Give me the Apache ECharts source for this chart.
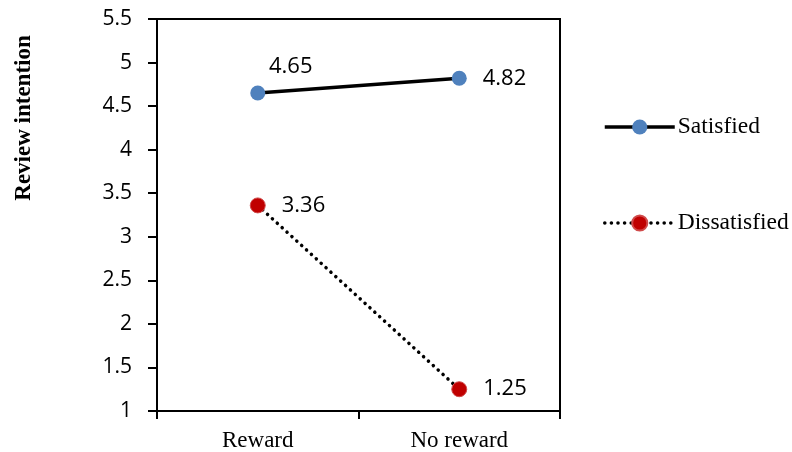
<!DOCTYPE html>
<html>
<head>
<meta charset="utf-8">
<script src="https://cdn.jsdelivr.net/npm/echarts@6/dist/echarts.min.js"></script>
<style>
  html, body { margin: 0; padding: 0; background: #fff; }
  #chart { width: 792px; height: 452px; }
</style>
</head>
<body>
<div id="chart"></div>
<script>
// Review intention by reward condition, for satisfied vs dissatisfied customers
const categories = ['Reward', 'No reward'];
const satisfied = [4.65, 4.82];
const dissatisfied = [3.36, 1.25];
const yTicks = { min: 1, max: 5.5, step: 0.5 };

const numFont = '"Open Sans", "Liberation Sans", sans-serif';
const serifFont = '"Liberation Serif", "DejaVu Serif", serif';

const solidLine = { color: '#000', width: 3.5, type: 'solid' };
const dottedLine = { color: '#000', width: 3.5, type: [0.1, 6.5], cap: 'round' };

const chart = echarts.init(document.getElementById('chart'));

chart.setOption({
  animation: false,
  backgroundColor: '#fff',
  grid: {
    left: 157, right: 232, top: 19, bottom: 40,
    show: true, borderColor: '#000', borderWidth: 2
  },
  xAxis: {
    type: 'category',
    data: categories,
    boundaryGap: true,
    axisLine: { lineStyle: { color: '#000', width: 2 } },
    axisTick: { show: true, length: 8, lineStyle: { color: '#000', width: 2 } },
    axisLabel: { color: '#000', fontFamily: serifFont, fontSize: 23, margin: 18 },
    splitLine: { show: false }
  },
  yAxis: {
    type: 'value',
    min: yTicks.min, max: yTicks.max, interval: yTicks.step,
    axisLine: { show: true, lineStyle: { color: '#000', width: 2 } },
    axisTick: { show: true, length: 9, lineStyle: { color: '#000', width: 2 } },
    axisLabel: { color: '#000', fontFamily: numFont, fontSize: 21, margin: 25 },
    splitLine: { show: false }
  },
  legend: {
    orient: 'vertical',
    left: 598, top: 110,
    itemWidth: 70, itemHeight: 19,
    itemGap: 72,
    textStyle: { color: '#000', fontFamily: serifFont, fontSize: 23.5, padding: [0, 0, 0, -2] },
    data: [
      { name: 'Satisfied', lineStyle: { width: 3.5 } },
      { name: 'Dissatisfied', lineStyle: { width: 3.5 } }
    ]
  },
  graphic: [{
    type: 'text',
    x: 24, y: 118,
    rotation: Math.PI / 2,
    style: {
      text: 'Review intention',
      fill: '#000',
      font: 'bold 23px "Liberation Serif", serif',
      textAlign: 'center',
      textVerticalAlign: 'middle'
    }
  }],
  series: [
    {
      name: 'Satisfied',
      type: 'line',
      data: satisfied.map((v, i) => i === 0
        ? { value: v, label: { position: 'top', offset: [33, 8] } }
        : { value: v }),
      symbol: 'circle', symbolSize: 15,
      itemStyle: { color: '#4F81BD' },
      lineStyle: solidLine,
      label: {
        show: true, position: 'right', distance: 16,
        color: '#000', fontFamily: numFont, fontSize: 22
      }
    },
    {
      name: 'Dissatisfied',
      type: 'line',
      data: dissatisfied,
      symbol: 'circle', symbolSize: 15,
      itemStyle: { color: '#C00000', borderColor: '#D04A4A', borderWidth: 1 },
      lineStyle: dottedLine,
      label: {
        show: true, position: 'right', distance: 16,
        color: '#000', fontFamily: numFont, fontSize: 22
      }
    }
  ]
});
</script>
</body>
</html>
